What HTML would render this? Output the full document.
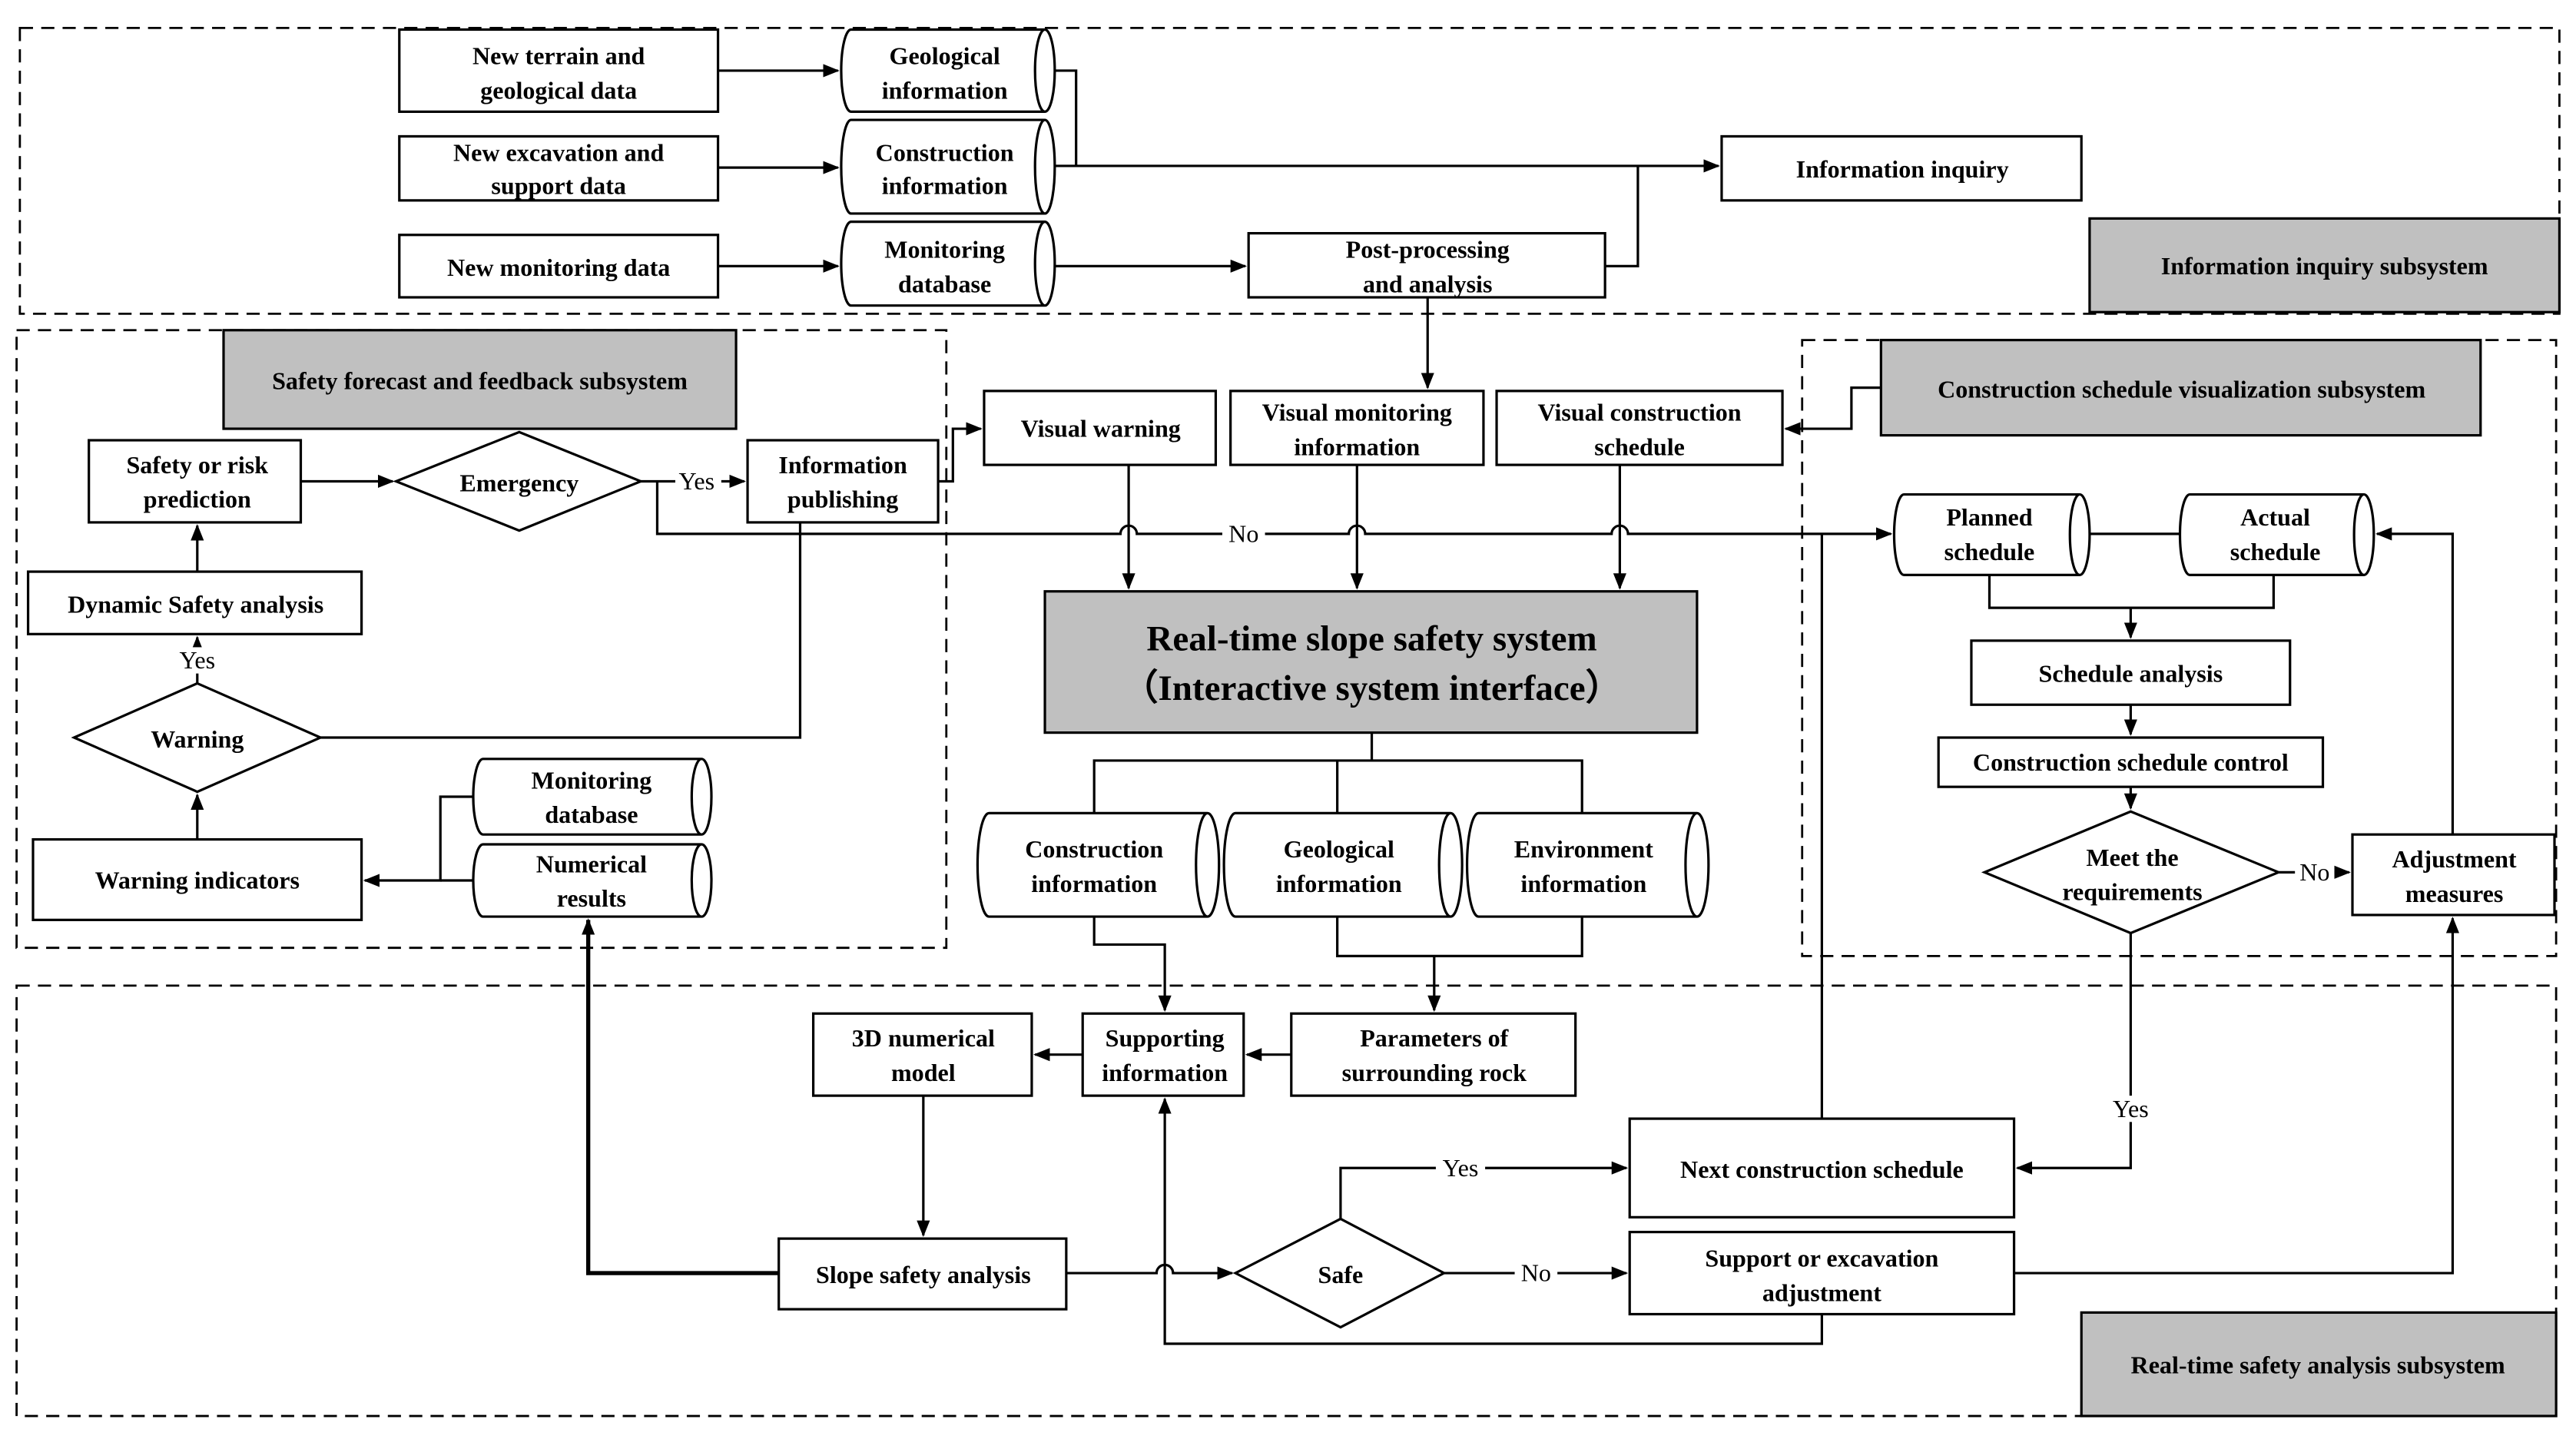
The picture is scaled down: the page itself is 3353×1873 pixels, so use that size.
<!DOCTYPE html>
<html><head><meta charset="utf-8"><style>
html,body{margin:0;padding:0;background:#fff}
svg{display:block}
text{font-family:"Liberation Serif",serif;font-weight:bold;font-size:15px;fill:#000;text-anchor:middle}
.n{font-weight:normal}
</style></head><body>
<svg width="3353" height="1873" viewBox="0 0 1568 876" xmlns="http://www.w3.org/2000/svg">
<defs><marker id="a" markerWidth="10" markerHeight="10" refX="9" refY="5" orient="auto" markerUnits="userSpaceOnUse"><path d="M0,1 L10,5 L0,9 Z" fill="#000"/></marker></defs>
<g fill="none" stroke="#000" stroke-width="1.3" stroke-dasharray="8,5">
<rect x="12" y="17" width="1546" height="174"/>
<rect x="10" y="201" width="566" height="376"/>
<rect x="1097" y="207" width="459" height="375"/>
<rect x="10" y="600" width="1546" height="262"/>
</g>
<g fill="#c0c0c0" stroke="#000" stroke-width="1.5">
<rect x="1272" y="133" width="286" height="57"/>
<rect x="136" y="201" width="312" height="60"/>
<rect x="1145" y="207" width="365" height="58"/>
<rect x="1267" y="799" width="289" height="63"/>
<rect x="636" y="360" width="397" height="86"/>
</g>
<g fill="#fff" stroke="#000" stroke-width="1.5">
<rect x="243" y="18" width="194" height="50"/>
<rect x="243" y="83" width="194" height="39"/>
<rect x="243" y="143" width="194" height="38"/>
<rect x="1048" y="83" width="219" height="39"/>
<rect x="760" y="142" width="217" height="39"/>
<rect x="54" y="268" width="129" height="50"/>
<rect x="455" y="268" width="116" height="50"/>
<rect x="17" y="348" width="203" height="38"/>
<rect x="20" y="511" width="200" height="49"/>
<rect x="599" y="238" width="141" height="45"/>
<rect x="749" y="238" width="154" height="45"/>
<rect x="911" y="238" width="174" height="45"/>
<rect x="659" y="617" width="98" height="50"/>
<rect x="786" y="617" width="173" height="50"/>
<rect x="495" y="617" width="133" height="50"/>
<rect x="474" y="754" width="175" height="43"/>
<rect x="992" y="681" width="234" height="60"/>
<rect x="992" y="750" width="234" height="50"/>
<rect x="1200" y="390" width="194" height="39"/>
<rect x="1180" y="449" width="234" height="30"/>
<rect x="1432" y="508" width="123" height="49"/>
<path d="M241,293 L316,263 L390,293 L316,323 Z"/>
<path d="M45,449 L120,416 L195,449 L120,482 Z"/>
<path d="M752,775 L816,742 L879,775 L816,808 Z"/>
<path d="M1208,531 L1297,494 L1387,531 L1297,568 Z"/>
</g>
<g fill="#fff" stroke="#000" stroke-width="1.5">
<!-- cylinders -->
<path d="M518,18 H636 A6,25 0 0 1 636,68 H518 A6,25 0 0 1 518,18 Z M636,18 A6,25 0 0 0 636,68"/>
<path d="M518,73 H636 A6,28.5 0 0 1 636,130 H518 A6,28.5 0 0 1 518,73 Z M636,73 A6,28.5 0 0 0 636,130"/>
<path d="M518,135 H636 A6,25.5 0 0 1 636,186 H518 A6,25.5 0 0 1 518,135 Z M636,135 A6,25.5 0 0 0 636,186"/>
<path d="M294,462 H427 A6,23 0 0 1 427,508 H294 A6,23 0 0 1 294,462 Z M427,462 A6,23 0 0 0 427,508"/>
<path d="M294,514 H427 A6,22 0 0 1 427,558 H294 A6,22 0 0 1 294,514 Z M427,514 A6,22 0 0 0 427,558"/>
<path d="M602,495 H735 A7,31.5 0 0 1 735,558 H602 A7,31.5 0 0 1 602,495 Z M735,495 A7,31.5 0 0 0 735,558"/>
<path d="M752,495 H883 A7,31.5 0 0 1 883,558 H752 A7,31.5 0 0 1 752,495 Z M883,495 A7,31.5 0 0 0 883,558"/>
<path d="M900,495 H1033 A7,31.5 0 0 1 1033,558 H900 A7,31.5 0 0 1 900,495 Z M1033,495 A7,31.5 0 0 0 1033,558"/>
<path d="M1159,301 H1266 A6,24.5 0 0 1 1266,350 H1159 A6,24.5 0 0 1 1159,301 Z M1266,301 A6,24.5 0 0 0 1266,350"/>
<path d="M1333,301 H1439 A6,24.5 0 0 1 1439,350 H1333 A6,24.5 0 0 1 1333,301 Z M1439,301 A6,24.5 0 0 0 1439,350"/>
</g>
<g fill="none" stroke="#000" stroke-width="1.5">
<path d="M437,43 H510" marker-end="url(#a)"/>
<path d="M437,102 H510" marker-end="url(#a)"/>
<path d="M437,162 H510" marker-end="url(#a)"/>
<path d="M642,43 H655 V101 H1046" marker-end="url(#a)"/>
<path d="M642,101 H655"/>
<path d="M642,162 H758" marker-end="url(#a)"/>
<path d="M977,162 H997 V101"/>
<path d="M869,181 V236" marker-end="url(#a)"/>
<path d="M183,293 H239" marker-end="url(#a)"/>
<path d="M390,293 H453" marker-end="url(#a)"/>
<path d="M571,293 H580 V261 H597" marker-end="url(#a)"/>
<path d="M400,293 V325 H682 A5,5 0 0 1 692,325 H821 A5,5 0 0 1 831,325 H981 A5,5 0 0 1 991,325 H1151" marker-end="url(#a)"/>
<path d="M120,348 V320" marker-end="url(#a)"/>
<path d="M120,416 V388" marker-end="url(#a)"/>
<path d="M120,511 V484" marker-end="url(#a)"/>
<path d="M195,449 H487 V318"/>
<path d="M288,485 H268 V536 H222" marker-end="url(#a)"/>
<path d="M268,536 H288"/>
<path d="M474,775 H358 V560" stroke-width="2.5" marker-end="url(#a)"/>
<path d="M687,283 V358" marker-end="url(#a)"/>
<path d="M826,283 V358" marker-end="url(#a)"/>
<path d="M986,283 V358" marker-end="url(#a)"/>
<path d="M835,446 V463 M666,495 V463 H963 V495 M814,463 V495"/>
<path d="M666,558 V575 H709 V615" marker-end="url(#a)"/>
<path d="M814,558 V582 H963 V558 M873,582 V615" marker-end="url(#a)"/>
<path d="M786,642 H759" marker-end="url(#a)"/>
<path d="M659,642 H630" marker-end="url(#a)"/>
<path d="M562,667 V752" marker-end="url(#a)"/>
<path d="M649,775 H704 A5,5 0 0 1 714,775 H750" marker-end="url(#a)"/>
<path d="M816,742 V711 H990" marker-end="url(#a)"/>
<path d="M879,775 H990" marker-end="url(#a)"/>
<path d="M1109,800 V818 H709 V669" marker-end="url(#a)"/>
<path d="M1226,775 H1493 V559" marker-end="url(#a)"/>
<path d="M1109,681 V325"/>
<path d="M1145,236 H1127 V261 H1087" marker-end="url(#a)"/>
<path d="M1272,325 H1327"/>
<path d="M1211,350 V370 H1384 V350 M1297,370 V388" marker-end="url(#a)"/>
<path d="M1297,429 V447" marker-end="url(#a)"/>
<path d="M1297,479 V492" marker-end="url(#a)"/>
<path d="M1387,531 H1430" marker-end="url(#a)"/>
<path d="M1493,508 V325 H1447" marker-end="url(#a)"/>
<path d="M1297,568 V711 H1228" marker-end="url(#a)"/>
</g>
<g>
<rect x="411" y="285" width="28" height="16" fill="#fff"/><text class="n" x="424" y="298">Yes</text>
<rect x="744" y="317" width="26" height="16" fill="#fff"/><text class="n" x="757" y="330">No</text>
<rect x="105" y="394" width="30" height="16" fill="#fff"/><text class="n" x="120" y="407">Yes</text>
<rect x="874" y="703" width="30" height="16" fill="#fff"/><text class="n" x="889" y="716">Yes</text>
<rect x="922" y="767" width="26" height="16" fill="#fff"/><text class="n" x="935" y="780">No</text>
<rect x="1397" y="523" width="24" height="16" fill="#fff"/><text class="n" x="1409" y="536">No</text>
<rect x="1282" y="667" width="30" height="16" fill="#fff"/><text class="n" x="1297" y="680">Yes</text>

<text x="340" y="39">New terrain and</text><text x="340" y="60">geological data</text>
<text x="340" y="98">New excavation and</text><text x="340" y="118">support data</text>
<text x="340" y="168">New monitoring data</text>
<text x="575" y="39">Geological</text><text x="575" y="60">information</text>
<text x="575" y="98">Construction</text><text x="575" y="118">information</text>
<text x="575" y="157">Monitoring</text><text x="575" y="178">database</text>
<text x="1158" y="108">Information inquiry</text>
<text x="869" y="157">Post-processing</text><text x="869" y="178">and analysis</text>
<text x="1415" y="167">Information inquiry subsystem</text>
<text x="292" y="237">Safety forecast and feedback  subsystem</text>
<text x="1328" y="242">Construction schedule visualization subsystem</text>
<text x="1411" y="836">Real-time safety analysis subsystem</text>
<text x="120" y="288">Safety or risk</text><text x="120" y="309">prediction</text>
<text x="316" y="299">Emergency</text>
<text x="513" y="288">Information</text><text x="513" y="309">publishing</text>
<text x="119" y="373">Dynamic Safety analysis</text>
<text x="120" y="455">Warning</text>
<text x="120" y="541">Warning indicators</text>
<text x="360" y="480">Monitoring</text><text x="360" y="501">database</text>
<text x="360" y="531">Numerical</text><text x="360" y="552">results</text>
<text x="670" y="266">Visual warning</text>
<text x="826" y="256">Visual monitoring</text><text x="826" y="277">information</text>
<text x="998" y="256">Visual construction</text><text x="998" y="277">schedule</text>
<text x="835" y="396" style="font-size:22px">Real-time slope safety system</text>
<text x="835" y="426" style="font-size:22px">（Interactive system interface）</text>
<text x="666" y="522">Construction</text><text x="666" y="543">information</text>
<text x="815" y="522">Geological</text><text x="815" y="543">information</text>
<text x="964" y="522">Environment</text><text x="964" y="543">information</text>
<text x="709" y="637">Supporting</text><text x="709" y="658">information</text>
<text x="873" y="637">Parameters of</text><text x="873" y="658">surrounding rock</text>
<text x="562" y="637">3D numerical</text><text x="562" y="658">model</text>
<text x="562" y="781">Slope safety analysis</text>
<text x="816" y="781">Safe</text>
<text x="1109" y="717">Next construction schedule</text>
<text x="1109" y="771">Support or excavation</text><text x="1109" y="792">adjustment</text>
<text x="1211" y="320">Planned</text><text x="1211" y="341">schedule</text>
<text x="1385" y="320">Actual</text><text x="1385" y="341">schedule</text>
<text x="1297" y="415">Schedule analysis</text>
<text x="1297" y="469">Construction schedule control</text>
<text x="1298" y="527">Meet the</text><text x="1298" y="548">requirements</text>
<text x="1494" y="528">Adjustment</text><text x="1494" y="549">measures</text>
</g>
</svg>
</body></html>
